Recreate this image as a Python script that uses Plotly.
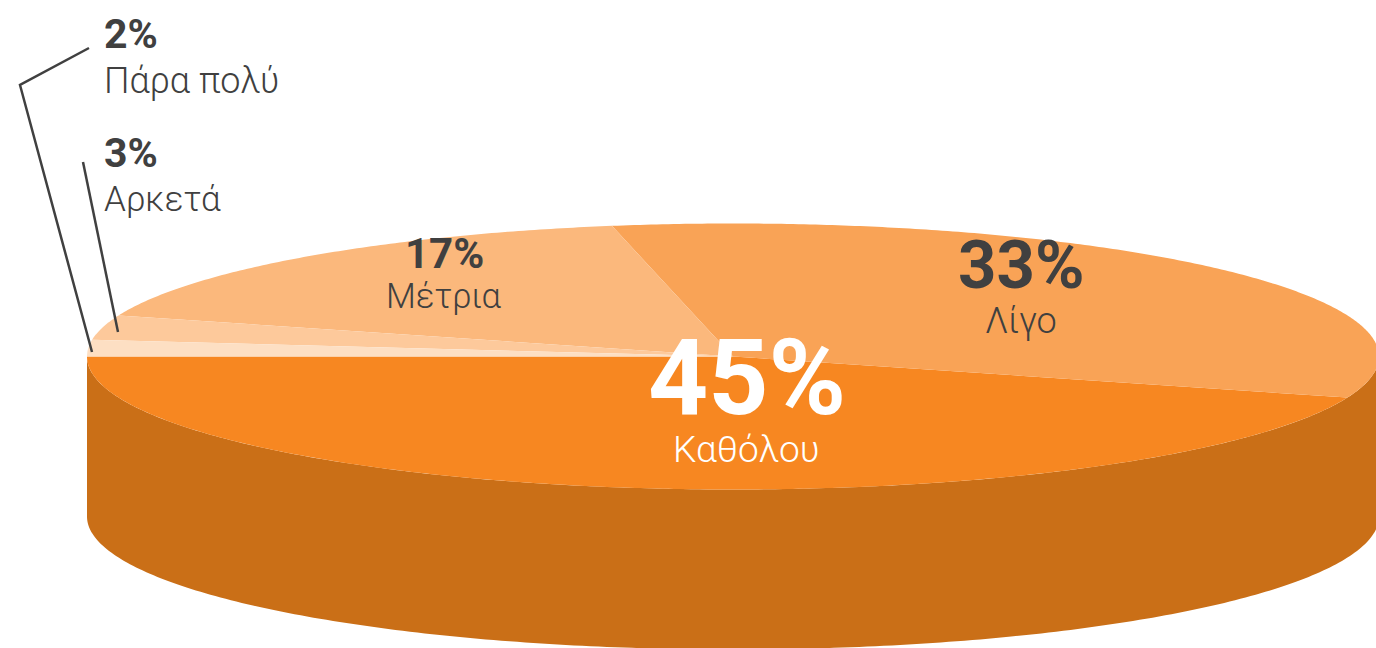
import numpy as np
import plotly.graph_objects as go

categories = ["Καθόλου", "Λίγο", "Μέτρια", "Αρκετά", "Πάρα πολύ"]
values = [45, 33, 17, 3, 2]

COLORS = ["#F78721", "#F9A356", "#FBB87C", "#FDC99B", "#FDDFC3"]
SIDE = "#CA6F17"
INK = "#404040"
FONT = "Roboto"
CX, CY, RX, RY, DEPTH = 733, 356.5, 646, 133, 160
START = 180  # degrees; slices run through the front of the disc


def ell(t):
    r = np.radians(t)
    return CX + RX * np.cos(r), CY - RY * np.sin(r)


fig = go.Figure()

# wall of the disc
ts = np.linspace(180, 360, 241)
x, y = ell(ts)
fig.add_trace(go.Scatter(
    x=np.r_[x, x[::-1]], y=np.r_[y, (y + DEPTH)[::-1]], fill="toself", mode="none",
    fillcolor=SIDE, hoverinfo="skip", showlegend=False))

# top of the disc
angle = START
for cat, val, col in zip(categories, values, COLORS):
    sweep = val / sum(values) * 360
    ts = np.linspace(angle, angle + sweep, max(int(sweep * 2), 8))
    x, y = ell(ts)
    fig.add_trace(go.Scatter(
        x=np.r_[CX, x, CX], y=np.r_[CY, y, CY], fill="toself", mode="none",
        fillcolor=col, name=cat, hoverinfo="skip", showlegend=False))
    angle += sweep

# leader lines
for lx, ly in [([89, 20, 92], [48, 85, 352]), ([83, 118], [162, 332])]:
    fig.add_trace(go.Scatter(x=lx, y=ly, mode="lines", line=dict(color=INK, width=2.5),
                             hoverinfo="skip", showlegend=False))

# label x, pct y, name y, anchor, pct size, name size, colour (order of categories)
LABELS = [
    (746.5, 378, 449, "center", 105, 37, "#FFFFFF"),
    (1021, 265, 321, "center", 67, 36, INK),
    (444, 253, 296, "center", 42, 34.5, INK),
    (102, 153, 199, "left", 41, 35, INK),
    (102, 34, 81, "left", 41, 36, INK),
]
ann = []
for cat, val, (lx, py, ny, anc, ps, ns, c) in zip(categories, values, LABELS):
    ann.append(dict(x=lx, y=py, text=f"<b>{val}%</b>", showarrow=False, xanchor=anc, yanchor="middle",
                    font=dict(family=FONT, size=ps, color=c)))
    ann.append(dict(x=lx, y=ny, text=cat, showarrow=False, xanchor=anc, yanchor="middle",
                    font=dict(family=FONT, size=ns, color=c, weight=300)))

fig.update_layout(
    width=1376, height=648, margin=dict(l=0, r=0, t=0, b=0),
    paper_bgcolor="white", plot_bgcolor="white", annotations=ann,
    xaxis=dict(range=[0, 1376], visible=False, fixedrange=True),
    yaxis=dict(range=[648, 0], visible=False, fixedrange=True),
)
post = ("document.documentElement.style.overflow='hidden';document.body.style.margin='0';"
        "var gd=document.getElementById('{plot_id}');"
        "Plotly.relayout(gd,{width:1376,height:648});")
fig.write_html("out.html", config={"displayModeBar": False, "responsive": False}, post_script=post)
